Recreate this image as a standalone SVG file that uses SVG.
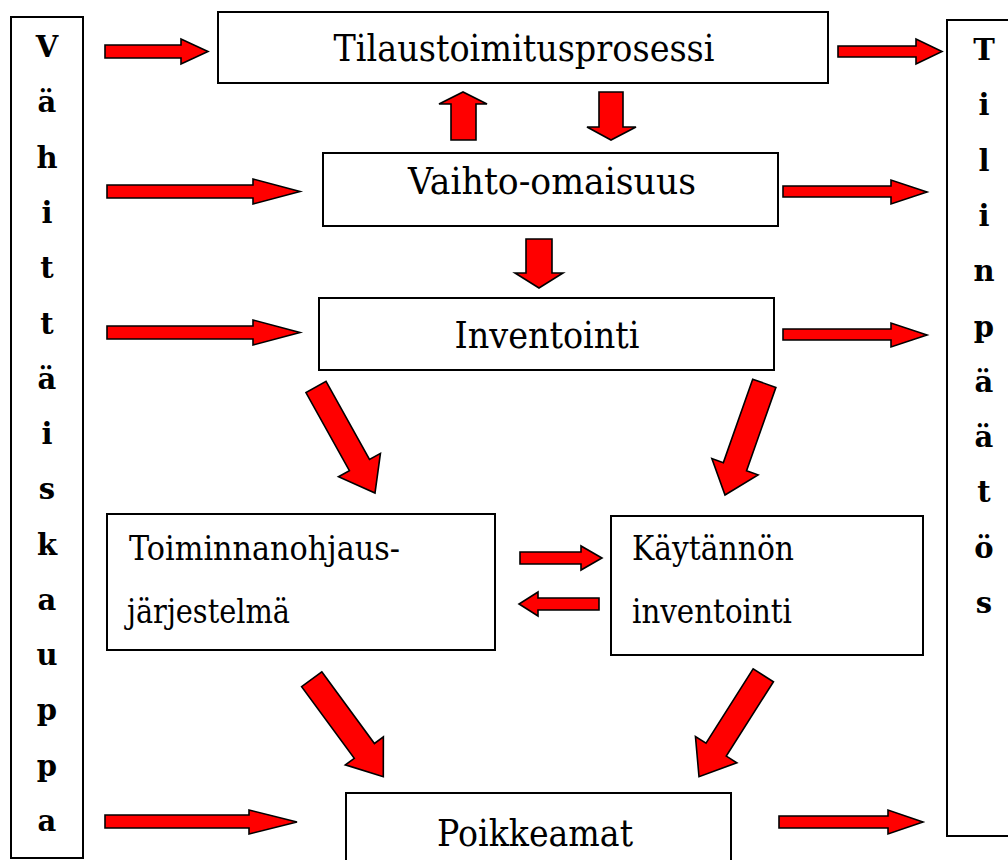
<svg xmlns="http://www.w3.org/2000/svg" width="1008" height="860" viewBox="0 0 1008 860">
<style>
.box{fill:#fff;stroke:#000;stroke-width:2}
.arr{fill:#ff0000;stroke:#000;stroke-width:1.6;stroke-linejoin:miter}
text{font-family:'DejaVu Serif','Liberation Serif',serif;fill:#000}
.big{font-size:38px}
.mid{font-size:34px}
.col{font-size:29px;font-weight:bold;text-anchor:middle}
</style>
<rect width="1008" height="860" fill="#fff"/>
<g id="vahittaiskauppa">
<rect class="box" x="11" y="17" width="72" height="841"/>
<text class="col" x="47" y="57">V</text>
<text class="col" x="47" y="112">ä</text>
<text class="col" x="47" y="168">h</text>
<text class="col" x="47" y="223">i</text>
<text class="col" x="47" y="278">t</text>
<text class="col" x="47" y="334">t</text>
<text class="col" x="47" y="389">ä</text>
<text class="col" x="47" y="444">i</text>
<text class="col" x="47" y="499">s</text>
<text class="col" x="47" y="555">k</text>
<text class="col" x="47" y="610">a</text>
<text class="col" x="47" y="665">u</text>
<text class="col" x="47" y="720">p</text>
<text class="col" x="47" y="776">p</text>
<text class="col" x="47" y="831">a</text>
</g>
<g id="tilinpaatos">
<rect class="box" x="947" y="20" width="80" height="816"/>
<text class="col" x="984" y="60">T</text>
<text class="col" x="984" y="115">i</text>
<text class="col" x="984" y="171">l</text>
<text class="col" x="984" y="226">i</text>
<text class="col" x="984" y="281">n</text>
<text class="col" x="984" y="337">p</text>
<text class="col" x="984" y="392">ä</text>
<text class="col" x="984" y="447">ä</text>
<text class="col" x="984" y="502">t</text>
<text class="col" x="984" y="558">ö</text>
<text class="col" x="984" y="613">s</text>
</g>
<g id="tilaustoimitusprosessi">
<rect class="box" x="218" y="12" width="610" height="71"/>
<text class="big" x="524" y="61" text-anchor="middle" textLength="381" lengthAdjust="spacingAndGlyphs">Tilaustoimitusprosessi</text>
</g>
<g id="vaihto-omaisuus">
<rect class="box" x="323" y="153" width="455" height="73"/>
<text class="big" x="552" y="194" text-anchor="middle" textLength="288" lengthAdjust="spacingAndGlyphs">Vaihto-omaisuus</text>
</g>
<g id="inventointi">
<rect class="box" x="319" y="298" width="455" height="72"/>
<text class="big" x="547" y="348" text-anchor="middle" textLength="185" lengthAdjust="spacingAndGlyphs">Inventointi</text>
</g>
<g id="toiminnanohjausjarjestelma">
<rect class="box" x="107" y="514" width="388" height="136"/>
<text class="mid" x="129" y="560" textLength="271" lengthAdjust="spacingAndGlyphs">Toiminnanohjaus-</text>
<text class="mid" x="127" y="623" textLength="163" lengthAdjust="spacingAndGlyphs">järjestelmä</text>
</g>
<g id="kaytannon-inventointi">
<rect class="box" x="611" y="516" width="312" height="139"/>
<text class="mid" x="632" y="560" textLength="162" lengthAdjust="spacingAndGlyphs">Käytännön</text>
<text class="mid" x="632" y="623" textLength="160" lengthAdjust="spacingAndGlyphs">inventointi</text>
</g>
<g id="poikkeamat">
<rect class="box" x="346" y="793" width="385" height="90"/>
<text class="big" x="535" y="846" text-anchor="middle" textLength="196" lengthAdjust="spacingAndGlyphs">Poikkeamat</text>
</g>
<g id="connectors">
<polygon class="arr" points="105,45 181,45 181,39 208,51.5 181,64 181,58 105,58"/>
<polygon class="arr" points="838,46 916,46 916,39 942,51.5 916,64 916,57 838,57"/>
<polygon class="arr" points="107,185 253,185 253,179 300,191.5 253,204 253,198 107,198"/>
<polygon class="arr" points="783,186 891,186 891,180 927,192 891,204 891,197 783,197"/>
<polygon class="arr" points="107,326 253,326 253,320 300,332.5 253,345 253,339 107,339"/>
<polygon class="arr" points="783,329 891,329 891,323 927,335 891,347 891,340 783,340"/>
<polygon class="arr" points="105,815 249,815 249,810 297,822 249,834 249,828 105,828"/>
<polygon class="arr" points="779,816 888,816 888,810 923,822 888,834 888,828 779,828"/>
<polygon class="arr" points="520,552 581,552 581,546 602,558 581,570 581,564 520,564"/>
<polygon class="arr" points="599,598 538,598 538,592 519,604 538,616 538,610 599,610"/>
<polygon class="arr" points="451,140 451,104 439,104 463,92 487,104 476,104 476,140"/>
<polygon class="arr" points="599,92 623,92 623,127 636,127 611,140 587,127 599,127"/>
<polygon class="arr" points="526,239 552,239 552,273 563,273 539,288 515,273 526,273"/>
<polygon class="arr" points="326.05,381.41 369.5,459.44 380.43,453.37 375,493 338.47,476.69 349.4,470.62 305.95,392.59"/>
<polygon class="arr" points="775.9,387.38 746.56,470.79 758.06,474.84 725,495 711.86,458.58 723.36,462.63 752.7,379.22"/>
<polygon class="arr" points="321.78,671.8 374.44,743.51 383.38,736.94 383.3,776.7 345.34,764.88 354.28,758.31 301.62,686.6"/>
<polygon class="arr" points="773.44,681.73 726.29,756.09 736.85,762.79 699,776.7 695.45,736.53 706.01,743.23 753.16,668.87"/>
</g>
</svg>
